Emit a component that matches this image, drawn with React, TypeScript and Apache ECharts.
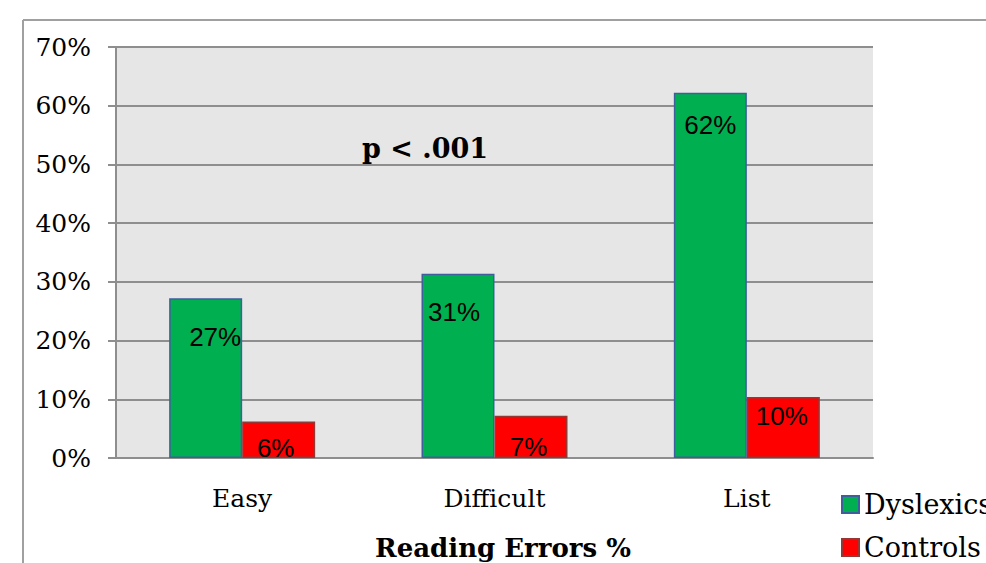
import React, { useEffect, useRef } from "react";
import * as echarts from "echarts";

// Reading error rates per condition (percent)
const categories = ["Easy", "Difficult", "List"];
const dyslexics = [27.2, 31.4, 62.2];
const controls = [6.2, 7.2, 10.4];
const yTicks = { min: 0, max: 70, step: 10 };
const seriesNames = ["Dyslexics", "Controls"];
const pValueNote = "p < .001";
const axisTitle = "Reading Errors %";

// Hand-placed data label nudges [dx, dy] for each bar
const dyslexicLabelShift = [
  [9.5, 21.2],
  [-4, 20.4],
  [0, 14.7],
];
const controlLabelShift = [
  [-3, 8.4],
  [-2.5, 13.3],
  [-1.5, 1.1],
];

const SERIF = "'DejaVu Serif', 'Liberation Serif', serif";
const SANS = "'Liberation Sans', Arial, sans-serif";
const GRID_GRAY = "#8E8E8E";

function withLabels(values: number[], shifts: number[][]) {
  return values.map((v, i) => ({
    value: v,
    label: { offset: shifts[i] },
  }));
}

export default function App() {
  const ref = useRef<HTMLDivElement>(null);

  useEffect(() => {
    if (!ref.current) return;
    const chart = echarts.init(ref.current, null, { renderer: "svg" });

    const barLabel = {
      show: true,
      position: "insideTop",
      distance: 5,
      fontFamily: SANS,
      fontSize: 26,
      color: "#000",
      formatter: (p: any) => `${Math.round(p.value)}%`,
    };

    chart.setOption({
      animation: false,
      backgroundColor: "#fff",
      grid: {
        left: 116,
        top: 47,
        right: 113,
        bottom: 105,
        show: true,
        backgroundColor: "#E6E6E6",
        borderWidth: 0,
        outerBoundsMode: "none",
      },
      legend: {
        orient: "vertical",
        left: 841,
        top: 490.5,
        padding: 0,
        itemWidth: 17,
        itemHeight: 17,
        itemGap: 15,
        itemTextGap: 10,
        icon: "rect",
        textStyle: {
          fontFamily: SERIF,
          fontSize: 27,
          lineHeight: 28,
          color: "#000",
        },
        data: seriesNames,
      },
      xAxis: {
        type: "category",
        data: categories,
        axisLine: { show: true, lineStyle: { color: GRID_GRAY, width: 2 } },
        axisTick: { show: false },
        axisLabel: {
          margin: 28,
          fontFamily: SERIF,
          fontSize: 25,
          color: "#000",
        },
      },
      yAxis: {
        type: "value",
        min: yTicks.min,
        max: yTicks.max,
        interval: yTicks.step,
        axisLine: { show: true, lineStyle: { color: GRID_GRAY, width: 2 } },
        axisTick: {
          show: true,
          length: 8,
          lineStyle: { color: GRID_GRAY, width: 2 },
        },
        splitLine: { show: true, lineStyle: { color: GRID_GRAY, width: 2 } },
        axisLabel: {
          margin: 25,
          formatter: "{value}%",
          fontFamily: SERIF,
          fontSize: 25,
          color: "#000",
        },
      },
      series: [
        {
          name: seriesNames[0],
          type: "bar",
          barWidth: 73,
          barGap: 0,
          data: withLabels(dyslexics, dyslexicLabelShift),
          itemStyle: {
            color: "#00B050",
            borderColor: "#3E5E9C",
            borderWidth: 1.5,
          },
          label: barLabel,
        },
        {
          name: seriesNames[1],
          type: "bar",
          barWidth: 73,
          barGap: 0,
          data: withLabels(controls, controlLabelShift),
          itemStyle: {
            color: "#FF0000",
            borderColor: "#953735",
            borderWidth: 1.5,
          },
          label: barLabel,
        },
      ],
      graphic: [
        // strip under the plot that trims labels spilling past the baseline
        {
          type: "rect",
          z: 100,
          shape: { x: 116, y: 459.2, width: 757, height: 14 },
          style: { fill: "#fff" },
        },
        // chart frame
        {
          type: "line",
          z: 100,
          shape: { x1: 23, y1: 20, x2: 986, y2: 20 },
          style: { stroke: "#A0A0A0", lineWidth: 2 },
        },
        {
          type: "line",
          z: 100,
          shape: { x1: 23, y1: 20, x2: 23, y2: 563 },
          style: { stroke: "#A0A0A0", lineWidth: 2 },
        },
        {
          type: "text",
          z: 100,
          x: 425,
          y: 148,
          style: {
            text: pValueNote,
            fontFamily: SERIF,
            fontWeight: "bold",
            fontSize: 27,
            fill: "#000",
            textAlign: "center",
            textVerticalAlign: "middle",
          },
        },
        {
          type: "text",
          z: 100,
          x: 503,
          y: 548,
          style: {
            text: axisTitle,
            fontFamily: SERIF,
            fontWeight: "bold",
            fontSize: 26,
            fill: "#000",
            textAlign: "center",
            textVerticalAlign: "middle",
          },
        },
      ],
    });

    return () => chart.dispose();
  }, []);

  return (
    <div
      ref={ref}
      style={{ position: "fixed", left: 0, top: 0, width: 986, height: 563 }}
    />
  );
}
